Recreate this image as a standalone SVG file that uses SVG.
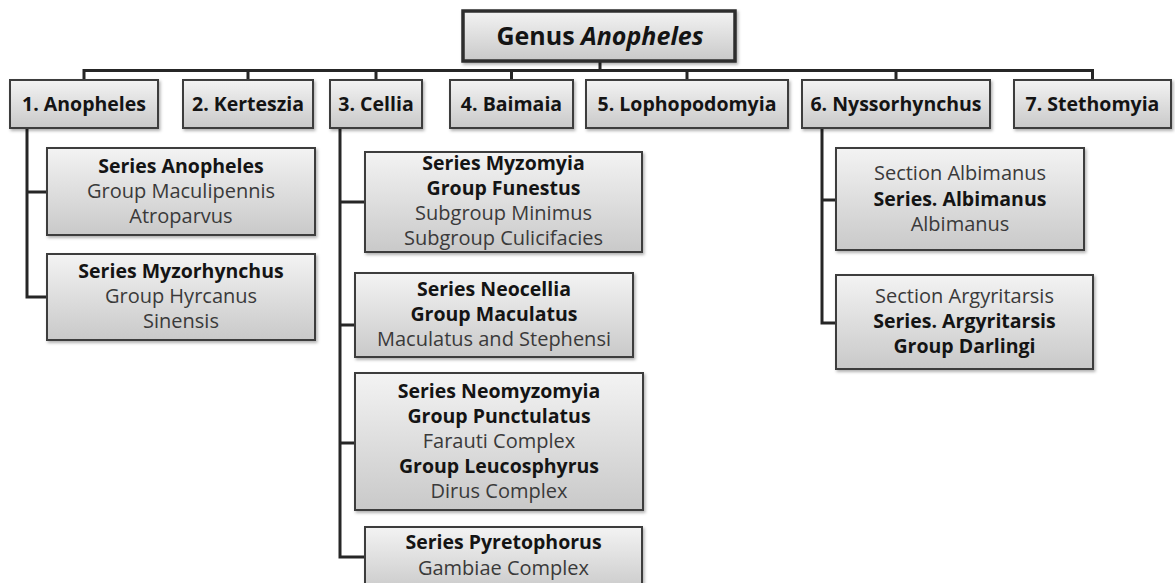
<svg xmlns="http://www.w3.org/2000/svg" width="1175" height="583" viewBox="0 0 1175 583">
<style>
text{font-family:"Open Sans","Noto Sans","Liberation Sans",sans-serif;font-size:20px;text-anchor:middle;fill:#3a3a3a}
.b{font-weight:bold;fill:#141414;font-size:19.5px}
.t{font-size:25px;font-weight:bold;fill:#141414}
.box{fill:url(#g);stroke:#3c3c3c;stroke-width:2;filter:url(#sh)}
.top{stroke-width:3.5;stroke:#2e2e2e}
#connectors path{fill:none;stroke:#262626;stroke-width:3}
</style>
<defs>
<linearGradient id="g" x1="0" y1="0" x2="0" y2="1">
<stop offset="0" stop-color="#f3f3f3"/>
<stop offset="1" stop-color="#c9c9c9"/>
</linearGradient>
<filter id="sh" x="-10%" y="-10%" width="125%" height="130%">
<feDropShadow dx="1.5" dy="2" stdDeviation="1.5" flood-color="#000" flood-opacity="0.3"/>
</filter>
</defs>
<rect width="1175" height="583" fill="#fff"/>
<g id="connectors">
<path d="M600 61V70.5M84 80V70.5H1092.5V80M248 70.5V80M376 70.5V80M511.5 70.5V80M687 70.5V80M896 70.5V80"/>
<path d="M27 128V297H47M27 192H47"/>
<path d="M340 128V557H365M340 202H365M340 325H355M340 443H355"/>
<path d="M822 128V323H836M822 200H836"/>
</g>
<g id="genus"><rect class="box top" x="463" y="11" width="272" height="50"/><text class="t" x="600" y="45">Genus <tspan font-style="italic">Anopheles</tspan></text></g>
<g id="n1"><rect class="box" x="10" y="80" width="148" height="48"/><text class="b" x="84" y="111">1. Anopheles</text></g>
<g id="n2"><rect class="box" x="183" y="80" width="130" height="48"/><text class="b" x="248" y="111">2. Kerteszia</text></g>
<g id="n3"><rect class="box" x="330" y="80" width="92" height="48"/><text class="b" x="376" y="111">3. Cellia</text></g>
<g id="n4"><rect class="box" x="450" y="80" width="123" height="48"/><text class="b" x="511.5" y="111">4. Baimaia</text></g>
<g id="n5"><rect class="box" x="586" y="80" width="202" height="48"/><text class="b" x="687" y="111">5. Lophopodomyia</text></g>
<g id="n6"><rect class="box" x="802" y="80" width="188" height="48"/><text class="b" x="896" y="111">6. Nyssorhynchus</text></g>
<g id="n7"><rect class="box" x="1014" y="80" width="157" height="48"/><text class="b" x="1092.5" y="111">7. Stethomyia</text></g>
<g id="a1"><rect class="box" x="47" y="148" width="268" height="87"/>
<text class="b" x="181" y="173">Series Anopheles</text><text x="181" y="198">Group Maculipennis</text><text x="181" y="223">Atroparvus</text></g>
<g id="a2"><rect class="box" x="47" y="254" width="268" height="86"/>
<text class="b" x="181" y="278">Series Myzorhynchus</text><text x="181" y="303">Group Hyrcanus</text><text x="181" y="328">Sinensis</text></g>
<g id="c1"><rect class="box" x="365" y="152" width="277" height="100"/>
<text class="b" x="503.5" y="170">Series Myzomyia</text><text class="b" x="503.5" y="195">Group Funestus</text><text x="503.5" y="220">Subgroup Minimus</text><text x="503.5" y="245">Subgroup Culicifacies</text></g>
<g id="c2"><rect class="box" x="355" y="273" width="278" height="84"/>
<text class="b" x="494" y="296">Series Neocellia</text><text class="b" x="494" y="321">Group Maculatus</text><text x="494" y="346">Maculatus and Stephensi</text></g>
<g id="c3"><rect class="box" x="355" y="373" width="288" height="137"/>
<text class="b" x="499" y="398">Series Neomyzomyia</text><text class="b" x="499" y="423">Group Punctulatus</text><text x="499" y="448">Farauti Complex</text><text class="b" x="499" y="473">Group Leucosphyrus</text><text x="499" y="498">Dirus Complex</text></g>
<g id="c4"><rect class="box" x="365" y="527" width="277" height="66"/>
<text class="b" x="503.5" y="549">Series Pyretophorus</text><text x="503.5" y="575">Gambiae Complex</text></g>
<g id="y1"><rect class="box" x="836" y="148" width="248" height="102"/>
<text x="960" y="180">Section Albimanus</text><text class="b" x="960" y="206">Series. Albimanus</text><text x="960" y="231">Albimanus</text></g>
<g id="y2"><rect class="box" x="836" y="275" width="257" height="94"/>
<text x="964.5" y="303">Section Argyritarsis</text><text class="b" x="964.5" y="328">Series. Argyritarsis</text><text class="b" x="964.5" y="353">Group Darlingi</text></g>
</svg>
